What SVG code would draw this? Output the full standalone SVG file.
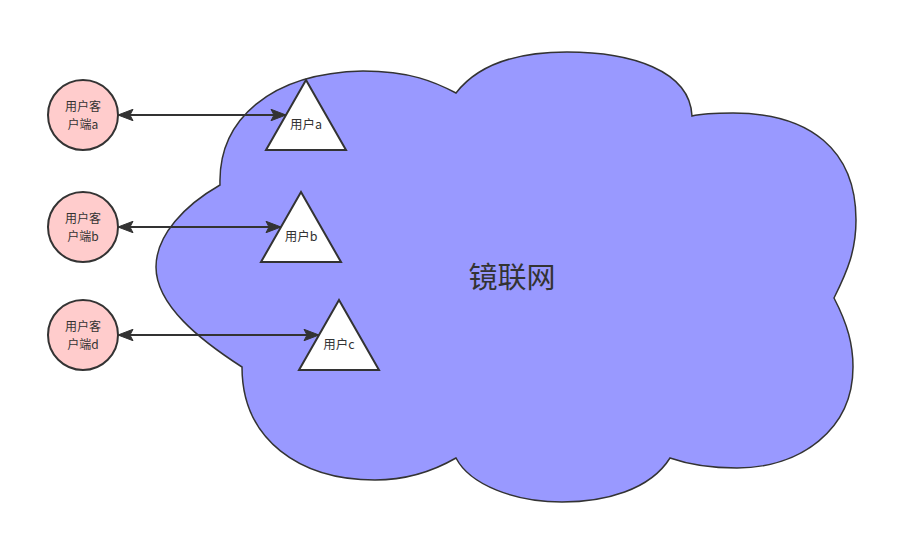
<svg xmlns="http://www.w3.org/2000/svg" width="902" height="536" viewBox="0 0 902 536">
<style>
.ln{stroke:#333;stroke-width:2;fill:none}
.sh{stroke:#333;stroke-width:2}
.t{font-family:"Noto Sans CJK SC","Liberation Sans",sans-serif;fill:#333;text-anchor:middle;font-size:12.5px}
.c{font-size:12px}
</style>
<defs>
<marker id="arr" viewBox="0 0 17 13" refX="16" refY="6.5" markerWidth="17" markerHeight="13" markerUnits="userSpaceOnUse" orient="auto-start-reverse">
<path d="M16,6.5 L1,0.8 L4,6.5 L1,12.2 Z" fill="#333" stroke="#333" stroke-width="1"/>
</marker>
</defs>
<rect width="902" height="536" fill="#fff"/>
<g id="cloud">
<path d="M220,185 C218,120 270,73 363,71 C410,71 435,82 456,93 C480,62 520,52 567,52 C630,52 690,70 692,116 C700,114 715,113 733,113 C810,113 856,150 856,220 C856,250 848,270 834,298 C848,325 853,345 853,367 C853,430 800,468 737,468 C715,468 690,465 670,458 C650,490 605,502 562,502 C515,502 470,485 456,458 C430,473 405,480 375,480 C300,480 242,440 242,367 C200,340 156,305 156,267 C156,235 185,205 220,185 Z" fill="#9999ff" stroke="#333" stroke-width="1.5"/>
<text class="t" x="512" y="288" style="font-size:29px">镜联网</text>
</g>
<g id="clientA">
<circle cx="83" cy="115" r="35" fill="#ffcccc" class="sh"/>
<text class="t c" x="83" y="110.5">用户客</text>
<text class="t c" x="83" y="128.5">户端a</text>
</g>
<g id="clientB">
<circle cx="83" cy="227" r="35" fill="#ffcccc" class="sh"/>
<text class="t c" x="83" y="222.5">用户客</text>
<text class="t c" x="83" y="240.5">户端b</text>
</g>
<g id="clientD">
<circle cx="83" cy="335" r="35" fill="#ffcccc" class="sh"/>
<text class="t c" x="83" y="330.5">用户客</text>
<text class="t c" x="83" y="348.5">户端d</text>
</g>
<g id="userA">
<polygon points="306,80 346,150 266,150" fill="#fff" class="sh"/>
<text class="t" x="306" y="128.5">用户a</text>
</g>
<g id="userB">
<polygon points="301,192 341,262 261,262" fill="#fff" class="sh"/>
<text class="t" x="301" y="240.5">用户b</text>
</g>
<g id="userC">
<polygon points="339,300 379,370 299,370" fill="#fff" class="sh"/>
<text class="t" x="339" y="348.5">用户c</text>
</g>
<g id="connectors">
<line class="ln" x1="118" y1="115" x2="286" y2="115" marker-start="url(#arr)" marker-end="url(#arr)"/>
<line class="ln" x1="118" y1="227" x2="281" y2="227" marker-start="url(#arr)" marker-end="url(#arr)"/>
<line class="ln" x1="118" y1="335" x2="319" y2="335" marker-start="url(#arr)" marker-end="url(#arr)"/>
</g>
</svg>
